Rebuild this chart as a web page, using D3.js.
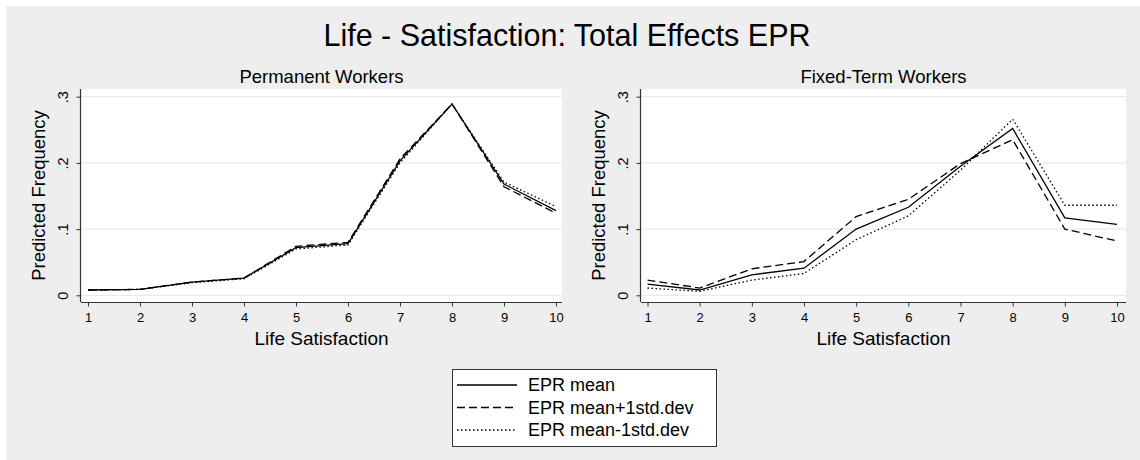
<!DOCTYPE html>
<html>
<head>
<meta charset="utf-8">
<script src="https://cdn.jsdelivr.net/npm/d3@7"></script>
<style>
  body { margin: 0; background: #fff; }
  text { font-family: "Liberation Sans", Arial, sans-serif; fill: #000; }
</style>
</head>
<body>
<script>
const W = 1140, H = 460

// data
const lifeSat = [1, 2, 3, 4, 5, 6, 7, 8, 9, 10]
const yTicks = [0, 0.1, 0.2, 0.3]
const seriesNames = ['EPR mean', 'EPR mean+1std.dev', 'EPR mean-1std.dev']
const dashes = [null, '8,4', '1.5,2.5']

const permMean  = [0.008, 0.009, 0.020, 0.026, 0.072, 0.078, 0.203, 0.289, 0.168, 0.128]
const permPlus  = [0.008, 0.009, 0.020, 0.026, 0.074, 0.080, 0.206, 0.289, 0.164, 0.124]
const permMinus = [0.008, 0.009, 0.019, 0.025, 0.070, 0.076, 0.200, 0.289, 0.171, 0.134]

const fixMean  = [0.017, 0.008, 0.031, 0.041, 0.100, 0.133, 0.195, 0.252, 0.117, 0.107]
const fixPlus  = [0.023, 0.011, 0.040, 0.051, 0.119, 0.145, 0.199, 0.235, 0.100, 0.082]
const fixMinus = [0.011, 0.006, 0.023, 0.033, 0.084, 0.120, 0.189, 0.266, 0.136, 0.136]

const panels = [
  { title: 'Permanent Workers', series: [permMean, permPlus, permMinus], left: 81, right: 562, x0: 88, x1: 556 },
  { title: 'Fixed-Term Workers', series: [fixMean, fixPlus, fixMinus], left: 641, right: 1126, x0: 647.5, x1: 1117 }
]

const svg = d3.select('body').append('svg').attr('width', W).attr('height', H)

svg.append('rect').attr('x', 6).attr('y', 6).attr('width', W - 6).attr('height', H - 6).attr('fill', '#eeeeee')

svg.append('text').attr('x', 567).attr('y', 46).attr('text-anchor', 'middle')
  .style('font-size', '30.5px').text('Life - Satisfaction: Total Effects EPR')

const plotTop = 89, plotBottom = 302

panels.forEach(p => {
  const x = d3.scaleLinear().domain([1, 10]).range([p.x0, p.x1])
  const y = d3.scaleLinear().domain([0, 0.3]).range([295.3, 96.7])
  const g = svg.append('g')

  g.append('rect').attr('x', p.left).attr('y', plotTop).attr('width', p.right - p.left).attr('height', plotBottom - plotTop).attr('fill', '#fff')

  g.selectAll('.grid').data(yTicks).enter().append('line')
    .attr('x1', p.left).attr('x2', p.right)
    .attr('y1', d => y(d)).attr('y2', d => y(d))
    .attr('stroke', '#eaeaea').attr('stroke-width', 1.2)

  // x axis
  const xa = g.append('g').attr('transform', 'translate(0,' + (plotBottom + 0.5) + ')')
    .call(d3.axisBottom(x).tickValues(lifeSat).tickSize(4).tickSizeOuter(0).tickFormat(d3.format('d')))
  xa.select('.domain').attr('d', 'M' + p.left + ',0H' + p.right).attr('stroke', '#333').attr('stroke-width', 1.2)
  xa.selectAll('.tick line').attr('stroke', '#333')
  xa.selectAll('.tick text').attr('y', 19).attr('dy', null)
    .style('font-size', '13px').style('font-family', '"Liberation Sans", Arial, sans-serif')

  // y axis
  const ya = g.append('g').attr('transform', 'translate(' + (p.left - 0.5) + ',0)')
    .call(d3.axisLeft(y).tickValues(yTicks).tickSize(4).tickSizeOuter(0)
      .tickFormat(d => d === 0 ? '0' : d3.format('.1f')(d).replace(/^0/, '')))
  ya.select('.domain').attr('d', 'M0,' + plotTop + 'V' + plotBottom).attr('stroke', '#333').attr('stroke-width', 1.2)
  ya.selectAll('.tick line').attr('stroke', '#333')
  ya.selectAll('.tick text')
    .attr('x', null).attr('dy', null)
    .attr('text-anchor', 'middle')
    .attr('transform', 'translate(-13,0) rotate(-90)')
    .style('font-size', '14.5px').style('font-family', '"Liberation Sans", Arial, sans-serif')

  const mid = (p.left + p.right) / 2
  g.append('text').attr('x', mid).attr('y', 83).attr('text-anchor', 'middle').style('font-size', '18.5px').text(p.title)
  g.append('text').attr('x', mid).attr('y', 345).attr('text-anchor', 'middle').style('font-size', '19px').text('Life Satisfaction')
  g.append('text').attr('transform', 'translate(' + (p.left - 36) + ',' + ((plotTop + plotBottom) / 2) + ') rotate(-90)')
    .attr('text-anchor', 'middle').style('font-size', '18.5px').text('Predicted Frequency')

  const line = d3.line().x((d, i) => x(lifeSat[i])).y(d => y(d))
  p.series.forEach((s, k) => {
    g.append('path').datum(s).attr('d', line)
      .attr('fill', 'none').attr('stroke', '#000').attr('stroke-width', 1.3)
      .attr('stroke-dasharray', dashes[k])
  })
})

// legend
const lg = svg.append('g')
lg.append('rect').attr('x', 452.5).attr('y', 369.5).attr('width', 264).attr('height', 77)
  .attr('fill', '#fff').attr('stroke', '#333').attr('stroke-width', 1)
const rowY = d3.scalePoint().domain(seriesNames).range([385, 430])
seriesNames.forEach((n, k) => {
  lg.append('line').attr('x1', 457).attr('x2', 517).attr('y1', rowY(n)).attr('y2', rowY(n))
    .attr('stroke', '#000').attr('stroke-width', 1.3).attr('stroke-dasharray', dashes[k])
  lg.append('text').attr('x', 528).attr('y', rowY(n) + 6).style('font-size', '18px').text(n)
})
</script>
</body>
</html>
